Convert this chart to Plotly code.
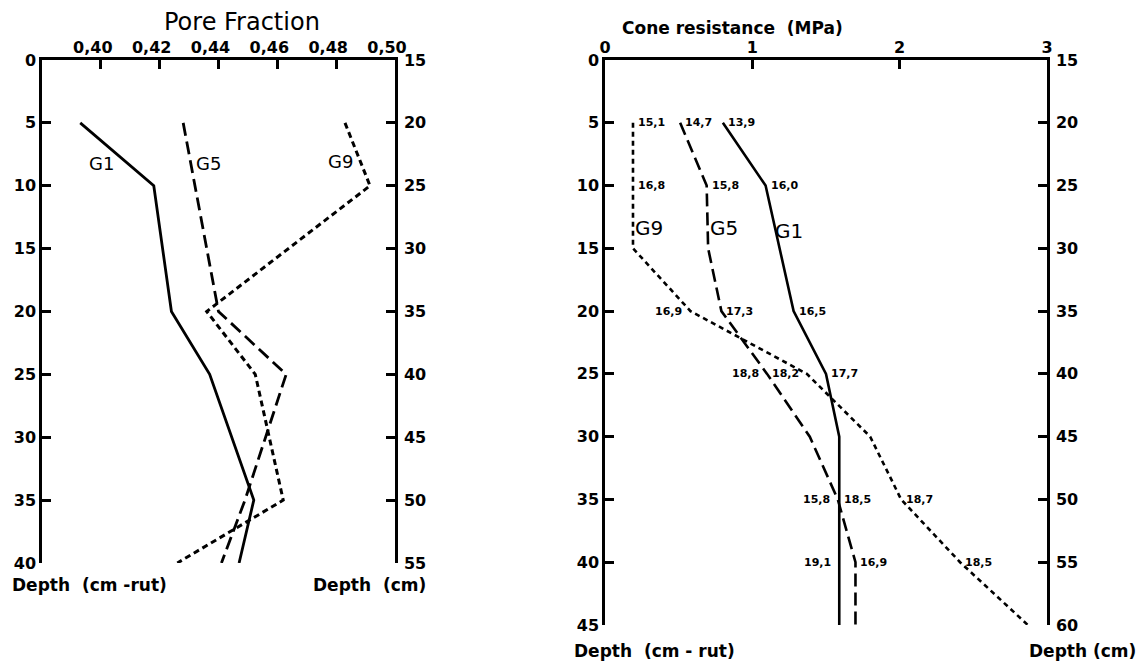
import plotly.graph_objects as go

# ---------------- data ----------------
# Left panel: pore fraction vs depth below rut (cm)
pore_depth = [5, 10, 20, 25, 35, 40]
pore_g1 = [0.393, 0.418, 0.424, 0.437, 0.452, 0.447]
pore_g5 = [0.428, 0.432, 0.440, 0.463, 0.449, 0.441]
pore_g9 = [0.483, 0.4915, 0.436, 0.4525, 0.462, 0.426]

# Right panel: cone resistance (MPa) vs depth below rut (cm)
cone_depth_g1 = [5, 10, 20, 25, 30, 35, 40, 45]
cone_g1 = [0.80, 1.09, 1.28, 1.50, 1.59, 1.59, 1.59, 1.59]
cone_depth_g5 = [5, 10, 15, 20, 25, 30, 35, 40, 45]
cone_g5 = [0.51, 0.69, 0.70, 0.79, 1.10, 1.39, 1.58, 1.70, 1.70]
cone_depth_g9 = [5, 10, 15, 20, 25, 30, 35, 40, 45]
cone_g9 = [0.19, 0.19, 0.19, 0.58, 1.37, 1.80, 2.01, 2.41, 2.87]

# Moisture contents written beside the cone resistance curves
moist_g1_depth = [5, 10, 20, 25, 35, 40]
moist_g1_text = ["13,9", "16,0", "16,5", "17,7", "18,5", "19,1"]
moist_g1_side = ["r", "r", "r", "r", "r", "l"]
moist_g5_depth = [5, 10, 20, 25, 35, 40]
moist_g5_text = ["14,7", "15,8", "17,3", "18,8", "15,8", "16,9"]
moist_g5_side = ["r", "r", "r", "l", "l", "r"]
moist_g9_depth = [5, 10, 20, 25, 35, 40]
moist_g9_text = ["15,1", "16,8", "16,9", "18,2", "18,7", "18,5"]
moist_g9_side = ["r", "r", "l", "l", "r", "r"]

# Axis ticks
pore_ticks = [0.40, 0.42, 0.44, 0.46, 0.48, 0.50]
pore_ticktext = ["0,40", "0,42", "0,44", "0,46", "0,48", "0,50"]
left_depth_ticks = [0, 5, 10, 15, 20, 25, 30, 35, 40]
left_depth_cm = ["15", "20", "25", "30", "35", "40", "45", "50", "55"]
cone_ticks = [0, 1, 2, 3]
right_depth_ticks = [0, 5, 10, 15, 20, 25, 30, 35, 40, 45]
right_depth_cm = ["15", "20", "25", "30", "35", "40", "45", "50", "55", "60"]

# ---------------- styling ----------------
W, H = 1140, 670
FONT = "DejaVu Sans"
INK = "black"
SOLID = "solid"
LONG = "13px,6px"
SHORT = "6px,4px"


def px_x(p):
    return p / W


def px_y(p):
    return 1 - p / H


fig = go.Figure()

# Left panel curves
for vals, dash, w in [(pore_g1, SOLID, 2.8), (pore_g5, LONG, 2.8), (pore_g9, SHORT, 3.0)]:
    fig.add_trace(go.Scatter(x=vals, y=pore_depth, mode="lines",
                             line=dict(color=INK, width=w, dash=dash),
                             xaxis="x", yaxis="y", showlegend=False, hoverinfo="skip"))
# secondary depth scale (cm) on the right of the left panel
fig.add_trace(go.Scatter(x=[None], y=[None], xaxis="x", yaxis="y2", showlegend=False))

# Right panel curves
for vals, depth, dash, w in [(cone_g1, cone_depth_g1, SOLID, 2.6),
                              (cone_g5, cone_depth_g5, LONG, 2.6),
                              (cone_g9, cone_depth_g9, "5px,4px", 2.6)]:
    fig.add_trace(go.Scatter(x=vals, y=depth, mode="lines",
                             line=dict(color=INK, width=w, dash=dash),
                             xaxis="x2", yaxis="y3", showlegend=False, hoverinfo="skip"))
fig.add_trace(go.Scatter(x=[None], y=[None], xaxis="x2", yaxis="y4", showlegend=False))

tickfont = dict(family=FONT, size=16, color=INK, weight="bold")
common_axis = dict(showgrid=False, zeroline=False, showline=True, linecolor=INK,
                   linewidth=2.5, ticks="inside", tickcolor=INK, tickwidth=2.5,
                   ticklen=9, tickfont=tickfont, automargin=False)

left_dom_x = [px_x(42), px_x(395)]
left_dom_y = [px_y(563), px_y(60)]
right_dom_x = [px_x(605), px_x(1047)]
right_dom_y = [px_y(625), px_y(60)]

fig.update_layout(
    width=W, height=H,
    margin=dict(l=0, r=0, t=0, b=0),
    paper_bgcolor="white", plot_bgcolor="white",
    font=dict(family=FONT, color=INK),
    xaxis=dict(common_axis, domain=left_dom_x, anchor="y", side="top",
               range=[0.38, 0.50], tickvals=pore_ticks, ticktext=pore_ticktext,
               ticklabelstandoff=-2, ticklabelshift=-8),
    yaxis=dict(common_axis, domain=left_dom_y, anchor="x", range=[40, 0],
               tickvals=left_depth_ticks, ticktext=[str(v) for v in left_depth_ticks]),
    yaxis2=dict(common_axis, overlaying="y", side="right", anchor="x", range=[40, 0],
                tickvals=left_depth_ticks, ticktext=left_depth_cm, ticklabelstandoff=3),
    xaxis2=dict(common_axis, domain=right_dom_x, anchor="y3", side="top",
                range=[0, 3], tickvals=cone_ticks, ticktext=[str(v) for v in cone_ticks],
                ticklabelstandoff=-2),
    yaxis3=dict(common_axis, domain=right_dom_y, anchor="x2", range=[45, 0],
                tickvals=right_depth_ticks, ticktext=[str(v) for v in right_depth_ticks]),
    yaxis4=dict(common_axis, overlaying="y3", side="right", anchor="x2", range=[45, 0],
                tickvals=right_depth_ticks, ticktext=right_depth_cm, ticklabelstandoff=3),
)

ann = []


def text_ann(x, y, text, size, xanchor="center", xref="paper", yref="paper", xshift=0,
             weight="bold"):
    ann.append(dict(x=x, y=y, xref=xref, yref=yref, text=text, showarrow=False,
                    xanchor=xanchor, yanchor="middle", xshift=xshift,
                    font=dict(family=FONT, size=size, color=INK, weight=weight)))


# Axis titles
text_ann(px_x(242), px_y(22), "Pore Fraction", 24, weight="normal")
text_ann(px_x(620), px_y(28), "Cone resistance  (MPa)", 17, xanchor="left")
text_ann(px_x(10), px_y(585), "Depth  (cm -rut)", 17, xanchor="left")
text_ann(px_x(428), px_y(585), "Depth  (cm)", 17, xanchor="right")
text_ann(px_x(572), px_y(651), "Depth  (cm - rut)", 17, xanchor="left")
text_ann(px_x(1138), px_y(651), "Depth (cm)", 17, xanchor="right")

# Curve names
text_ann(0.4001, 8.2, "G1", 18, xref="x", yref="y", weight="normal")
text_ann(0.4366, 8.2, "G5", 18, xref="x", yref="y", weight="normal")
text_ann(0.4816, 8.1, "G9", 18, xref="x", yref="y", weight="normal")
text_ann(0.30, 13.4, "G9", 20, xref="x2", yref="y3", weight="normal")
text_ann(0.81, 13.4, "G5", 20, xref="x2", yref="y3", weight="normal")
text_ann(1.25, 13.6, "G1", 20, xref="x2", yref="y3", weight="normal")


def curve_x(depths, vals, d):
    for i in range(len(depths) - 1):
        if depths[i] <= d <= depths[i + 1]:
            t = (d - depths[i]) / (depths[i + 1] - depths[i])
            return vals[i] + t * (vals[i + 1] - vals[i])
    return vals[-1]


# Moisture labels next to the cone resistance curves
for depths, vals, ld, lt, ls in [
        (cone_depth_g1, cone_g1, moist_g1_depth, moist_g1_text, moist_g1_side),
        (cone_depth_g5, cone_g5, moist_g5_depth, moist_g5_text, moist_g5_side),
        (cone_depth_g9, cone_g9, moist_g9_depth, moist_g9_text, moist_g9_side)]:
    for d, t, s in zip(ld, lt, ls):
        xv = curve_x(depths, vals, d)
        if s == "r":
            text_ann(xv, d, t, 11, xanchor="left", xref="x2", yref="y3", xshift=3)
        else:
            text_ann(xv, d, t, 11, xanchor="right", xref="x2", yref="y3", xshift=-6)

fig.update_layout(annotations=ann)

fig.write_html("out.html")
